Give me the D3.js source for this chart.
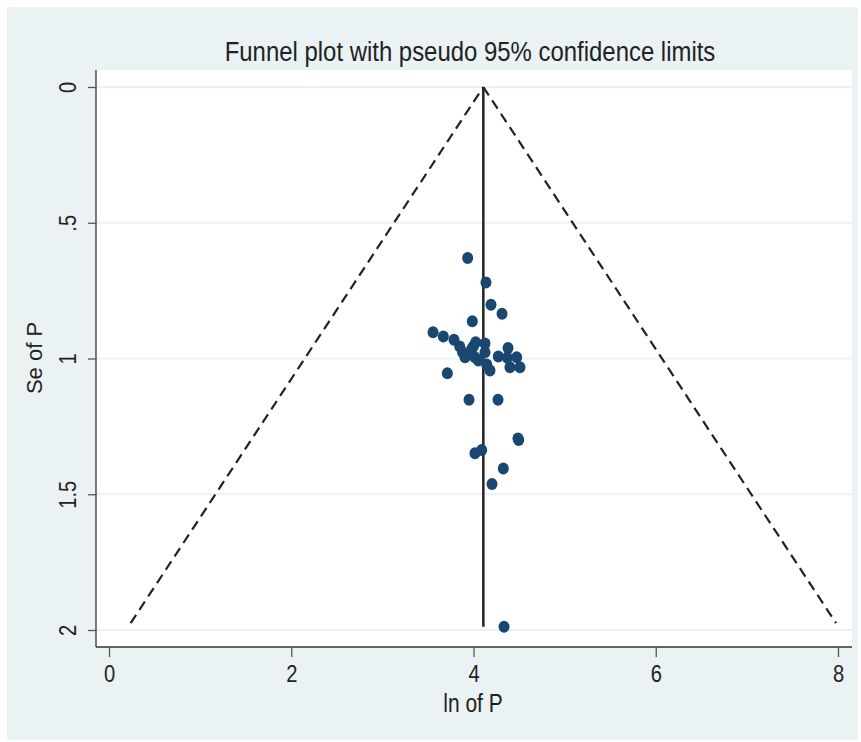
<!DOCTYPE html>
<html>
<head>
<meta charset="utf-8">
<script src="https://cdn.jsdelivr.net/npm/d3@7"></script>
<style>
  body { margin: 0; background: #fff; }
  text { font-family: "Liberation Sans", Arial, sans-serif; fill: #222; }
</style>
</head>
<body>
<div id="chart"></div>
<script>
// valeurs (ln of P, Se of P)
const lnP = [3.936, 4.137, 4.192, 4.313, 3.987, 3.556, 3.669, 3.786, 3.849, 3.998,
             4.024, 4.126, 4.126, 3.907, 4.016, 4.053, 4.379, 4.272, 4.371, 4.474,
             4.400, 4.510, 4.181, 4.145, 3.713, 3.951, 4.269, 4.496, 4.488, 4.016,
             4.090, 4.327, 4.203, 4.335, 3.980, 3.880];
const seP = [0.630, 0.720, 0.802, 0.835, 0.863, 0.903, 0.919, 0.931, 0.956, 0.956,
             0.940, 0.945, 0.977, 0.995, 0.995, 1.007, 0.961, 0.993, 0.997, 0.995,
             1.032, 1.032, 1.044, 1.022, 1.054, 1.152, 1.152, 1.300, 1.295, 1.349,
             1.337, 1.405, 1.462, 1.988, 0.965, 0.977];
const pooled = 4.108;     // estimation combinée (ligne verticale)
const zCrit = 1.96;       // limites pseudo 95%
const funnelEnd = 1.975;  // bas visible des limites en tirets
const xTicks = [0, 2, 4, 6, 8];
const yTicks = [0, 0.5, 1, 1.5, 2];
const yTickLabels = ["0", ".5", "1", "1.5", "2"];

const W = 861, H = 742;
const narrow = "scale(0.84,1)";
const svg = d3.select("#chart").append("svg")
    .attr("width", W)
    .attr("height", H);

// fond extérieur
svg.append("rect")
    .attr("x", 7).attr("y", 7)
    .attr("width", 851).attr("height", 733)
    .attr("fill", "#eaf2f3");

const plot = { left: 96, top: 70, right: 852, bottom: 647 };

svg.append("rect")
    .attr("x", plot.left).attr("y", plot.top)
    .attr("width", plot.right - plot.left).attr("height", plot.bottom - plot.top)
    .attr("fill", "#fff");

const x = d3.scaleLinear().domain([0, 8]).range([109, 838]);
const y = d3.scaleLinear().domain([0, 2]).range([87, 630]);

// lignes de grille
svg.selectAll(".grid")
    .data(yTicks)
    .enter()
    .append("line")
    .attr("x1", plot.left).attr("x2", plot.right)
    .attr("y1", d => y(d)).attr("y2", d => y(d))
    .attr("stroke", "#eaf2f3")
    .attr("stroke-width", 2);

// entonnoir
const maxSe = d3.max(seP);
const funnel = [
    [[pooled - zCrit * funnelEnd, funnelEnd], [pooled, 0]],
    [[pooled, 0], [pooled + zCrit * funnelEnd, funnelEnd]]
];
const line = d3.line().x(d => x(d[0])).y(d => y(d[1]));
svg.selectAll(".funnel")
    .data(funnel)
    .enter()
    .append("path")
    .attr("d", line)
    .attr("fill", "none")
    .attr("stroke", "#222")
    .attr("stroke-width", 2.2)
    .attr("stroke-dasharray", "10,6");

svg.append("line")
    .attr("x1", x(pooled)).attr("x2", x(pooled))
    .attr("y1", y(0)).attr("y2", y(maxSe))
    .attr("stroke", "#222")
    .attr("stroke-width", 2.5);

// points
const pts = lnP.map((v, i) => ({ x: v, se: seP[i] }));
svg.selectAll(".pt")
    .data(pts)
    .enter()
    .append("ellipse")
    .attr("cx", d => x(d.x))
    .attr("cy", d => y(d.se))
    .attr("rx", 5.5)
    .attr("ry", 6)
    .attr("fill", "#1a476f");

// axes
const xAxis = d3.axisBottom(x).tickValues(xTicks).tickSize(10).tickPadding(8);
const gx = svg.append("g")
    .attr("transform", `translate(0,${plot.bottom})`)
    .call(xAxis);
gx.select(".domain").attr("d", `M${plot.left},0H${plot.right}`).attr("stroke", "#333").attr("stroke-width", 1.3);
gx.selectAll(".tick line").attr("stroke", "#555").attr("stroke-width", 1.3);
gx.selectAll(".tick text").attr("font-size", 24).attr("fill", "#222")
    .attr("transform", narrow)
    .style("font-family", "'Liberation Sans', Arial, sans-serif");

const yAxis = d3.axisLeft(y).tickValues(yTicks).tickFormat((d, i) => yTickLabels[i]).tickSize(8).tickPadding(0);
const gy = svg.append("g")
    .attr("transform", `translate(${plot.left},0)`)
    .call(yAxis);
gy.select(".domain").attr("d", `M0,${plot.top}V${plot.bottom}`).attr("stroke", "#333").attr("stroke-width", 1.3);
gy.selectAll(".tick line").attr("stroke", "#555").attr("stroke-width", 1.3);
gy.selectAll(".tick text")
    .attr("font-size", 24).attr("fill", "#222")
    .attr("x", 0).attr("dy", null)
    .attr("text-anchor", "middle")
    .attr("transform", "translate(-26,0) rotate(-90) " + narrow)
    .attr("y", 0)
    .attr("dominant-baseline", "middle")
    .style("font-family", "'Liberation Sans', Arial, sans-serif");

// titres
svg.append("text")
    .attr("transform", "translate(470,61) " + narrow)
    .attr("text-anchor", "middle")
    .attr("font-size", 28.5)
    .text("Funnel plot with pseudo 95% confidence limits");

svg.append("text")
    .attr("transform", "translate(473,712) " + narrow)
    .attr("text-anchor", "middle")
    .attr("font-size", 25)
    .text("ln of P");

svg.append("text")
    .attr("transform", "translate(42,358) rotate(-90)")
    .attr("text-anchor", "middle")
    .attr("font-size", 22)
    .text("Se of P");
</script>
</body>
</html>
